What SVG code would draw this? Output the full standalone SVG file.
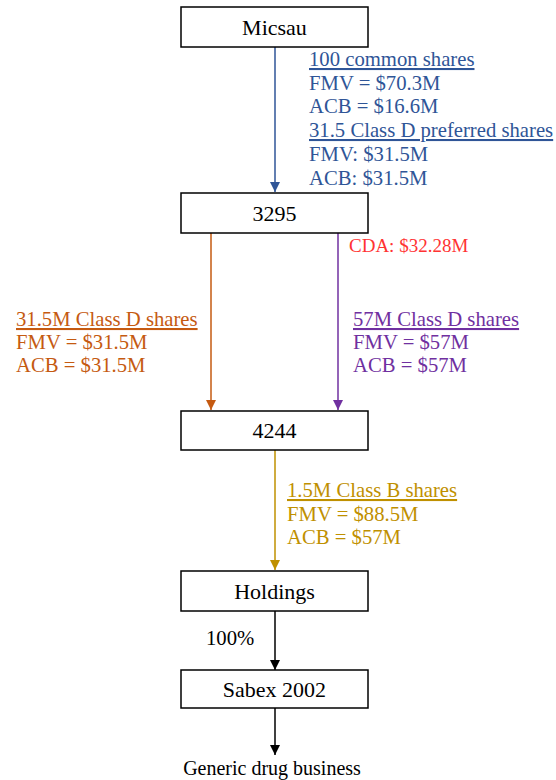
<svg xmlns="http://www.w3.org/2000/svg" width="556" height="780" viewBox="0 0 556 780">
<style>
  .box rect { fill: #ffffff; stroke: #000000; stroke-width: 1.5; }
  .box text { font-family: "Liberation Serif", "Times New Roman", serif; font-size: 22px; fill: #000000; text-anchor: middle; }
  .lbl { font-family: "Liberation Serif", "Times New Roman", serif; font-size: 20.7px; }
  .u { text-decoration: underline; }
  .blue { fill: #2f5597; }
  .orange { fill: #c55a11; }
  .purple { fill: #7030a0; }
  .gold { fill: #bf9000; }
  .red { fill: #ff3333; }
  .black { fill: #000000; }
  .conn line { stroke-width: 1.5; fill: none; }
</style>
<defs>
  <marker id="aBlue" viewBox="0 0 10 10" refX="10" refY="5" markerWidth="10" markerHeight="10" markerUnits="userSpaceOnUse" orient="auto"><path d="M0,0 L10,5 L0,10 Z" fill="#2f5597"/></marker>
  <marker id="aOrange" viewBox="0 0 10 10" refX="10" refY="5" markerWidth="10" markerHeight="10" markerUnits="userSpaceOnUse" orient="auto"><path d="M0,0 L10,5 L0,10 Z" fill="#c55a11"/></marker>
  <marker id="aPurple" viewBox="0 0 10 10" refX="10" refY="5" markerWidth="10" markerHeight="10" markerUnits="userSpaceOnUse" orient="auto"><path d="M0,0 L10,5 L0,10 Z" fill="#7030a0"/></marker>
  <marker id="aGold" viewBox="0 0 10 10" refX="10" refY="5" markerWidth="10" markerHeight="10" markerUnits="userSpaceOnUse" orient="auto"><path d="M0,0 L10,5 L0,10 Z" fill="#bf9000"/></marker>
  <marker id="aBlack" viewBox="0 0 10 10" refX="10" refY="5" markerWidth="10" markerHeight="10" markerUnits="userSpaceOnUse" orient="auto"><path d="M0,0 L10,5 L0,10 Z" fill="#000000"/></marker>
</defs>

<g id="connectors" class="conn">
  <line x1="275" y1="47" x2="275" y2="192" stroke="#2f5597" marker-end="url(#aBlue)"/>
  <line x1="211" y1="233" x2="211" y2="410" stroke="#c55a11" marker-end="url(#aOrange)"/>
  <line x1="338" y1="233" x2="338" y2="410" stroke="#7030a0" marker-end="url(#aPurple)"/>
  <line x1="275" y1="450" x2="275" y2="570" stroke="#bf9000" marker-end="url(#aGold)"/>
  <line x1="275" y1="611" x2="275" y2="670" stroke="#000000" marker-end="url(#aBlack)"/>
  <line x1="275" y1="708" x2="275" y2="755" stroke="#000000" marker-end="url(#aBlack)"/>
</g>

<g id="labels">
  <g id="label-micsau-3295" class="lbl blue">
    <text x="309" y="66" class="u">100 common shares</text>
    <text x="309" y="90">FMV = $70.3M</text>
    <text x="309" y="113">ACB = $16.6M</text>
    <text x="309" y="137" class="u">31.5 Class D preferred shares</text>
    <text x="309" y="161">FMV: $31.5M</text>
    <text x="309" y="185">ACB: $31.5M</text>
  </g>
  <text id="label-cda" x="349" y="252" class="lbl red" style="font-size:19px">CDA: $32.28M</text>
  <g id="label-orange" class="lbl orange">
    <text x="16" y="326" class="u">31.5M Class D shares</text>
    <text x="16" y="349">FMV = $31.5M</text>
    <text x="16" y="372">ACB = $31.5M</text>
  </g>
  <g id="label-purple" class="lbl purple">
    <text x="353" y="326" class="u">57M Class D shares</text>
    <text x="353" y="349">FMV = $57M</text>
    <text x="353" y="372">ACB = $57M</text>
  </g>
  <g id="label-gold" class="lbl gold">
    <text x="287" y="497" class="u">1.5M Class B shares</text>
    <text x="287" y="521">FMV = $88.5M</text>
    <text x="287" y="544">ACB = $57M</text>
  </g>
  <text id="label-100" x="206" y="645" class="lbl black">100%</text>
  <text id="label-generic" x="272" y="775" class="lbl black" text-anchor="middle" style="font-size:20px">Generic drug business</text>
</g>

<g id="node-micsau" class="box">
  <rect x="181" y="7" width="187" height="40"/>
  <text x="274.5" y="34.5">Micsau</text>
</g>
<g id="node-3295" class="box">
  <rect x="181" y="193" width="187" height="40"/>
  <text x="274.5" y="220.5">3295</text>
</g>
<g id="node-4244" class="box">
  <rect x="181" y="411" width="187" height="39"/>
  <text x="274.5" y="438">4244</text>
</g>
<g id="node-holdings" class="box">
  <rect x="181" y="571" width="187" height="40"/>
  <text x="274.5" y="598.5">Holdings</text>
</g>
<g id="node-sabex" class="box">
  <rect x="181" y="670" width="187" height="38"/>
  <text x="274.5" y="697">Sabex 2002</text>
</g>
</svg>
